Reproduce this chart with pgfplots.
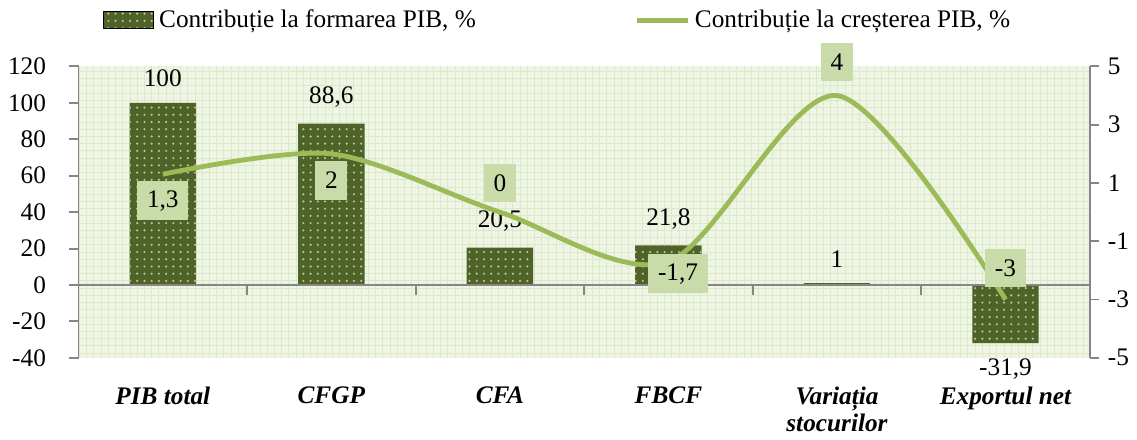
\documentclass[border=0pt]{standalone}
\usepackage{fontspec}
\setmainfont{Liberation Serif}
\usepackage{pgfplots}
\pgfplotsset{compat=1.18}
\usetikzlibrary{patterns}
\definecolor{barcol}{HTML}{4F6228}
\definecolor{dotcol}{HTML}{B8C79A}
\definecolor{linecol}{HTML}{9BBB59}
\definecolor{boxcol}{HTML}{C9DBA9}
\definecolor{bgcol}{HTML}{EFF5E4}
\definecolor{gridcol}{HTML}{DDE8C8}
\definecolor{axgray}{HTML}{868686}
\newcommand{\cfont}{\fontsize{10.5}{12.6}\selectfont}
\begin{document}
\begin{tikzpicture}[font=\cfont]
\begin{axis}[
  scale only axis, width=420pt, height=121pt,
  xmin=-0.5, xmax=5.5, ymin=-40, ymax=120,
  axis y line*=left, axis x line*=bottom,
  x axis line style={draw=none},
  xtick={0,...,5}, major x tick style={draw=none},
  xticklabels={PIB total, CFGP, CFA, FBCF, {Variația\\stocurilor}, Exportul net},
  xticklabel style={font=\fontsize{10.5}{11.3}\selectfont\bfseries\itshape, align=center, anchor=north, yshift=-4.5pt},
  ytick={-40,-20,...,120},
  yticklabel style={xshift=-6pt},
  y axis line style={axgray, line width=0.8pt},
  ytick style={axgray, line width=0.8pt},
  tick align=outside, major tick length=4pt,
  /pgf/number format/assume math mode=true,
  /pgf/number format/use comma,
  axis background/.style={fill=bgcol, postaction={pattern=grid, pattern color=gridcol}},
  clip=false,
]
\addplot[ybar, bar width=27.6pt, fill=barcol, draw=none,
  postaction={pattern=dots, pattern color=dotcol},
  nodes near coords,
  nodes near coords style={font=\cfont, text=black, inner ysep=6.5pt}]
  coordinates {(0,100) (1,88.6) (2,20.5) (3,21.8) (4,1) (5,-31.9)};
\addplot[axgray, line width=0.8pt] coordinates {(-0.5,0) (5.5,0)};
\pgfplotsinvokeforeach{0.5,1.5,2.5,3.5,4.5}{
  \draw[axgray, line width=0.8pt] (axis cs:#1,0) -- ++(0pt,-4pt);
}
\end{axis}
\begin{axis}[
  scale only axis, width=420pt, height=121pt,
  xmin=-0.5, xmax=5.5, ymin=-5, ymax=5,
  axis y line*=right, axis x line=none,
  ytick={-5,-3,...,5},
  y axis line style={axgray, line width=0.8pt},
  ytick style={axgray, line width=0.8pt},
  tick align=outside, major tick length=4pt,
  /pgf/number format/assume math mode=true,
  /pgf/number format/use comma,
  clip=false,
  legend style={draw=none, fill=none, at={(0.475,1)}, anchor=south, yshift=10.5pt,
    font=\cfont, /tikz/every even column/.append style={column sep=64pt}},
  legend columns=2,
]
\addlegendimage{legend image code/.code={
  \fill[barcol] (0pt,-3.5pt) rectangle (21pt,3.5pt);
  \fill[pattern=dots, pattern color=dotcol] (0pt,-3.5pt) rectangle (21pt,3.5pt);}}
\addlegendentry{Contribuție la formarea PIB, \%}
\addplot[linecol, line width=2pt, smooth,
  legend image code/.code={\draw[linecol, line width=2pt] (0pt,0pt) -- (21pt,0pt);}]
  coordinates {(0,1.3) (1,2) (2,0) (3,-1.7) (4,4) (5,-3)};
\addlegendentry{Contribuție la creșterea PIB, \%}
\addplot[draw=none, mark=none, forget plot, point meta=explicit,
  nodes near coords, nodes near coords align={center},
  visualization depends on={value \thisrow{dx} \as \dx},
  visualization depends on={value \thisrow{dy} \as \dy},
  every node near coord/.append style={fill=boxcol, anchor=center, text=black,
    xshift=\dx pt, yshift=\dy pt, inner xsep=4pt, minimum height=16pt, font=\cfont}]
  table[x=x, y=y, meta=m] {
x y m dx dy
0 1.3 1.3 0 -11
1 2 2 0 -11
2 0 0 0 12
3 -1.7 -1.7 4 -5
4 4 4 0 14
5 -3 -3 0 13
};
\end{axis}
\end{tikzpicture}
\end{document}
